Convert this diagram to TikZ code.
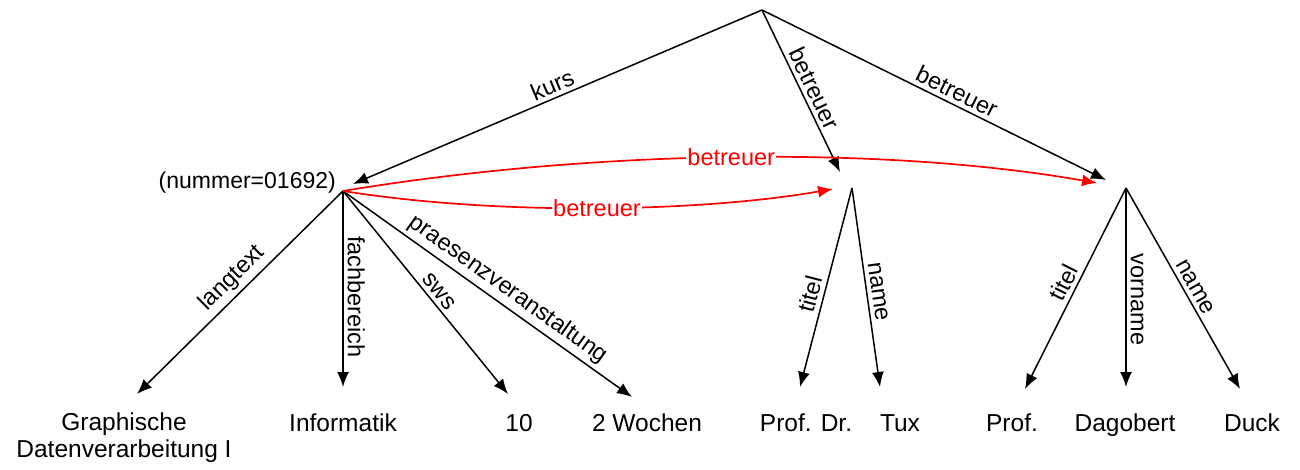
\documentclass[tikz,border=0pt]{standalone}
\usepackage{fontspec}
\setmainfont{Liberation Sans}
\usetikzlibrary{arrows.meta,calc}
\begin{document}
\begin{tikzpicture}[x=1pt,y=-1pt,
  edge/.style={draw=black,line width=1.5pt,-{Latex[length=15pt,width=12pt]}},
  redge/.style={draw=red,line width=1.7pt,-{Latex[length=15pt,width=12pt]}},
  elbl/.style={font=\fontsize{23.5}{26}\selectfont,sloped,above,inner sep=4pt},
  rlbl/.style={font=\fontsize{23.5}{26}\selectfont,text=red,fill=white,inner sep=1pt},
  leaf/.style={font=\fontsize{24.5}{26.5}\selectfont,anchor=base,inner sep=0pt,align=center}]
\useasboundingbox (0,0) rectangle (1300,469);
% inner nodes
\coordinate (root) at (762,10);
\coordinate (kurs) at (343,191);
\coordinate (b1) at (852,188);
\coordinate (b2) at (1126,188);
\node[font=\fontsize{23}{26}\selectfont,anchor=base east,inner sep=0pt] (numlbl) at (336,188) {(nummer=01692)};
% arrow tips at leaves
\coordinate (tLang) at (137,394);
\coordinate (tFach) at (343,387);
\coordinate (tSws) at (508,394);
\coordinate (tPraes) at (632,397);
\coordinate (tTitel1) at (800,387);
\coordinate (tName1) at (880,387);
\coordinate (tTitel2) at (1025,389);
\coordinate (tVorname) at (1126,387);
\coordinate (tName2) at (1240,389);
% leaf texts
\node[leaf] (lLang) at (124,457) {Graphische\\Datenverarbeitung I};
\node[leaf] (lFach) at (343,431) {Informatik};
\node[leaf] (lSws) at (519,431) {10};
\node[leaf] (lPraes) at (647,431) {2 Wochen};
\node[leaf] (lTitel1) at (806,431) {Prof. Dr.};
\node[leaf] (lName1) at (900,431) {Tux};
\node[leaf] (lTitel2) at (1012,431) {Prof.};
\node[leaf] (lVorname) at (1125,431) {Dagobert};
\node[leaf] (lName2) at (1252,431) {Duck};
% edges from root
\draw[edge] (root) -- node[elbl,pos=0.5] {kurs} ($(kurs)+(10,-7)$);
\draw[edge] (root) -- node[elbl,pos=0.52] {betreuer} ($(b1)+(-12,-16)$);
\draw[edge] (root) -- node[elbl,pos=0.55] {betreuer} ($(b2)+(-20,-8)$);
% edges from kurs
\draw[edge] (kurs) -- node[elbl,pos=0.485] {langtext} (tLang);
\draw[edge] (kurs) -- node[elbl,pos=0.54] {fachbereich} (tFach);
\draw[edge] (kurs) -- node[elbl,pos=0.53] {sws} (tSws);
\draw[edge] (kurs) -- node[elbl,pos=0.54] {praesenzveranstaltung} (tPraes);
% edges from betreuer 1
\draw[edge] (b1) -- node[elbl,pos=0.55] {titel} (tTitel1);
\draw[edge] (b1) -- node[elbl,pos=0.53] {name} (tName1);
% edges from betreuer 2
\draw[edge] (b2) -- node[elbl,pos=0.5] {titel} (tTitel2);
\draw[edge] (b2) -- node[elbl,pos=0.56] {vorname} (tVorname);
\draw[edge] (b2) -- node[elbl,pos=0.52] {name} (tName2);
% red references
\draw[redge] (kurs) .. controls (500,216) and (700,212) .. node[rlbl,pos=0.5] {betreuer} ($(b1)+(-19,1)$);
\draw[redge] (kurs) .. controls (590,150) and (880,145) .. node[rlbl,pos=0.5] {betreuer} ($(b2)+(-29,-5)$);
\end{tikzpicture}
\end{document}
